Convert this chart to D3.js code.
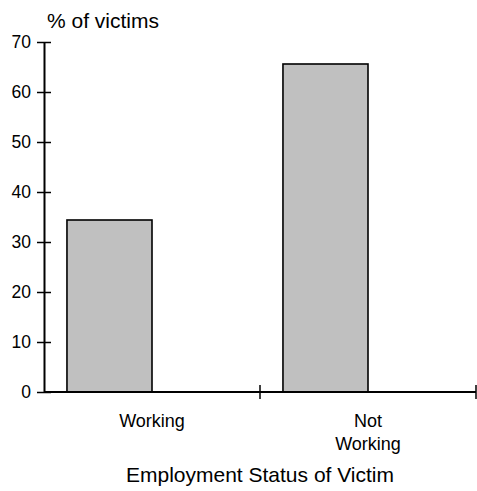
<!DOCTYPE html>
<html>
<head>
<meta charset="utf-8">
<script src="https://cdn.jsdelivr.net/npm/d3@7"></script>
<style>
  html, body { margin: 0; padding: 0; background: #fff; }
  svg { display: block; font-family: "Liberation Sans", Arial, sans-serif; }
</style>
</head>
<body>
<svg id="chart" width="477" height="491"></svg>
<script>
// Share of victims by employment status
const categories = ["Working", "Not Working"];
const categoryLines = [["Working"], ["Not", "Working"]];
const values = [34.4, 65.6];
const yTicks = [0, 10, 20, 30, 40, 50, 60, 70];
const yTitle = "% of victims";
const xTitle = "Employment Status of Victim";

const svg = d3.select("#chart");
const plotLeft = 44, plotRight = 476, plotTop = 42, plotBottom = 392;

const y = d3.scaleLinear().domain([0, 70]).range([plotBottom, plotTop]);
const x = d3.scaleBand().domain(categories).range([plotLeft, plotRight]).padding(0);
// each category holds two slots; the bar sits in the first one
const slot = d3.scaleBand().domain([0, 1]).range([0, x.bandwidth()])
  .paddingInner(0).paddingOuter(0.27);

// bars
svg.append("g").selectAll("rect")
  .data(categories)
  .join("rect")
  .attr("x", (d) => x(d) + slot(0))
  .attr("y", (d, i) => y(values[i]))
  .attr("width", slot.bandwidth())
  .attr("height", (d, i) => y(0) - y(values[i]))
  .attr("fill", "#c0c0c0")
  .attr("stroke", "#000")
  .attr("stroke-width", 1.6);

// y axis
const yAxis = svg.append("g")
  .attr("transform", `translate(${plotLeft},0)`)
  .call(d3.axisLeft(y).tickValues(yTicks).tickSize(7).tickSizeOuter(0).tickPadding(6));
yAxis.select(".domain").attr("stroke", "#000").attr("stroke-width", 2);
yAxis.selectAll(".tick line").attr("x2", 7).attr("x1", -7)
  .attr("stroke", "#000").attr("stroke-width", 1.5);
yAxis.selectAll(".tick text")
  .attr("x", -13)
  .attr("font-size", 17.5)
  .attr("fill", "#000")
  .attr("font-family", "Liberation Sans, Arial, sans-serif");

// x axis: ticks at the category boundaries
const boundaries = categories.map((c) => x(c) + x.step());
const xAxis = svg.append("g");
xAxis.append("line")
  .attr("x1", plotLeft).attr("x2", plotRight)
  .attr("y1", y(0)).attr("y2", y(0))
  .attr("stroke", "#000").attr("stroke-width", 2);
xAxis.selectAll("line.tick")
  .data(boundaries)
  .join("line")
  .attr("class", "tick")
  .attr("x1", (d) => d).attr("x2", (d) => d)
  .attr("y1", y(0) - 7).attr("y2", y(0) + 7)
  .attr("stroke", "#000").attr("stroke-width", 1.5);

// category labels
const labels = svg.append("g")
  .attr("font-size", 18)
  .attr("fill", "#000")
  .attr("text-anchor", "middle");
categories.forEach((c, i) => {
  const cx = x(c) + x.bandwidth() / 2;
  const t = labels.append("text").attr("x", cx).attr("y", 427);
  categoryLines[i].forEach((line, j) => {
    t.append("tspan")
      .attr("x", cx)
      .attr("dy", j === 0 ? 0 : 23)
      .text(line);
  });
});

// axis titles
svg.append("text")
  .attr("x", 47).attr("y", 28)
  .attr("font-size", 21)
  .attr("fill", "#000")
  .text(yTitle);

svg.append("text")
  .attr("x", (plotLeft + plotRight) / 2).attr("y", 481.5)
  .attr("text-anchor", "middle")
  .attr("font-size", 21)
  .attr("fill", "#000")
  .text(xTitle);
</script>
</body>
</html>
